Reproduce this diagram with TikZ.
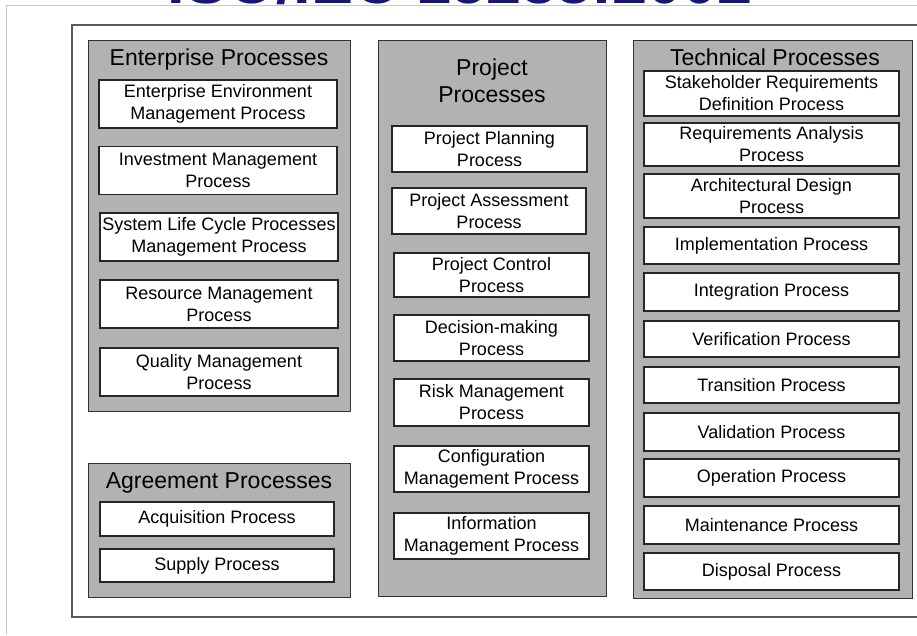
\documentclass[tikz,border=0pt]{standalone}
\usepackage{fontspec}
\setmainfont{Liberation Sans}
\definecolor{titleblue}{RGB}{22,22,128}
\begin{document}
\begin{tikzpicture}[x=1pt, y=-1pt,
		grp/.style={rectangle, draw=black!80, fill=black!30, line width=1.2pt, anchor=north west, inner sep=0},
		proc/.style={rectangle, draw=black!85, fill=white, line width=1.2pt, align=center, inner sep=0, font=\fontsize{18}{22}\selectfont},
		hd/.style={align=center, font=\fontsize{23}{27}\selectfont},
		frm/.style={draw=black!65, line width=1.4pt}
		]
		
		\useasboundingbox[fill=white] (0,0) rectangle (917,635);
		
		%Title and frames
		\node[anchor=base, text=titleblue, font=\bfseries\fontsize{63}{63}\selectfont] (ttl) at (460,3) {ISO/IEC 15288:2002};
		\draw[draw=black!22, line width=1pt] (6,635) -- (6,5) -- (917,5);
		\draw[frm] (72,25) rectangle (925,617);
		
		%Groups
		\node[grp, minimum width=262, minimum height=371] (ent) at (88,40)  {};
		\node[grp, minimum width=262, minimum height=134] (agr) at (88,463) {};
		\node[grp, minimum width=228, minimum height=556] (prj) at (378,40) {};
		\node[grp, minimum width=279, minimum height=558] (tec) at (633,40) {};
		
		\node[hd] (enthd) at (219,60)  {Enterprise Processes};
		\node[hd] (agrhd) at (219,483) {Agreement Processes};
		\node[hd] (prjhd) at (492,81)  {Project\\Processes};
		\node[hd] (techd) at (775,57)  {Technical Processes};
		
		%Enterprise
		\node[proc, minimum width=238, minimum height=48] (e1) at (218,104)   {Enterprise Environment\\Management Process};
		\node[proc, minimum width=238, minimum height=48] (e2) at (218,170.5) {Investment Management\\Process};
		\node[proc, minimum width=238, minimum height=48] (e3) at (219,237)   {System Life Cycle Processes\\Management Process};
		\node[proc, minimum width=238, minimum height=48] (e4) at (219,304)   {Resource Management\\Process};
		\node[proc, minimum width=238, minimum height=48] (e5) at (219,372)   {Quality Management\\Process};
		
		%Agreement
		\node[proc, minimum width=234, minimum height=34] (a1) at (217,519)   {Acquisition Process};
		\node[proc, minimum width=234, minimum height=33] (a2) at (217,565.5) {Supply Process};
		
		%Project
		\node[proc, minimum width=195, minimum height=46] (p1) at (489.5,149) {Project Planning\\Process};
		\node[proc, minimum width=194, minimum height=46] (p2) at (489,211)   {Project Assessment\\Process};
		\node[proc, minimum width=195, minimum height=44] (p3) at (491.5,275) {Project Control\\Process};
		\node[proc, minimum width=195, minimum height=46] (p4) at (491.5,338) {Decision-making\\Process};
		\node[proc, minimum width=195, minimum height=47] (p5) at (491.5,402.5) {Risk Management\\Process};
		\node[proc, minimum width=195, minimum height=46] (p6) at (491.5,469) {Configuration\\Management Process};
		\node[proc, minimum width=195, minimum height=46] (p7) at (491.5,536) {Information\\Management Process};
		
		%Technical
		\node[proc, minimum width=255, minimum height=45] (t1)  at (771.5,93.5)  {Stakeholder Requirements\\Definition Process};
		\node[proc, minimum width=255, minimum height=43] (t2)  at (771.5,144.5) {Requirements Analysis\\Process};
		\node[proc, minimum width=255, minimum height=44] (t3)  at (771.5,196)   {Architectural Design\\Process};
		\node[proc, minimum width=255, minimum height=37] (t4)  at (771.5,245.5) {Implementation Process};
		\node[proc, minimum width=255, minimum height=38] (t5)  at (771.5,292)   {Integration Process};
		\node[proc, minimum width=255, minimum height=36] (t6)  at (771.5,339)   {Verification Process};
		\node[proc, minimum width=255, minimum height=36] (t7)  at (771.5,385)   {Transition Process};
		\node[proc, minimum width=255, minimum height=38] (t8)  at (771.5,432)   {Validation Process};
		\node[proc, minimum width=255, minimum height=38] (t9)  at (771.5,478)   {Operation Process};
		\node[proc, minimum width=255, minimum height=38] (t10) at (771.5,525)   {Maintenance Process};
		\node[proc, minimum width=255, minimum height=37] (t11) at (771.5,571.5) {Disposal Process};
		
	\end{tikzpicture}
\end{document}
